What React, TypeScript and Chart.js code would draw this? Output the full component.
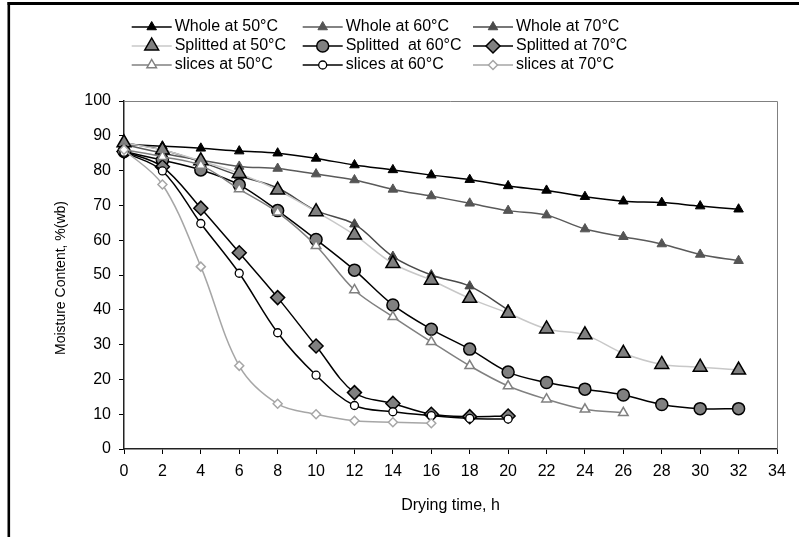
import React, { useEffect, useRef } from 'react';
import { Chart, registerables } from 'chart.js';

Chart.register(...registerables);

// ---- Data ----
const hours = [0, 2, 4, 6, 8, 10, 12, 14, 16, 18, 20, 22, 24, 26, 28, 30, 32];

const whole50 = [87.5, 87, 86.4, 85.6, 85, 83.5, 81.6, 80.2, 78.7, 77.4, 75.6, 74.3, 72.5, 71.2, 70.8, 69.8, 68.9];
const whole60 = [87.5, 85, 83, 81.2, 80.6, 79, 77.3, 74.6, 72.7, 70.6, 68.5, 67.2, 63.2, 61, 58.9, 55.9, 54.1];
const whole70 = [88, 86, 82.5, 78.5, 75, 68.5, 64.6, 55.3, 50, 46.8, 40];
const split50 = [88, 85.9, 82.8, 79.2, 74.4, 68.2, 61.5, 53.3, 48.5, 43.3, 39, 34.5, 32.8, 27.5, 24.3, 23.5, 22.7];
const split60 = [85.5, 83, 80.2, 75.9, 68.5, 60.2, 51.4, 41.4, 34.4, 28.7, 22.1, 19.1, 17.2, 15.5, 12.8, 11.6, 11.6];
const split70 = [85.5, 81.1, 69.2, 56.4, 43.5, 29.6, 16.2, 13.1, 10, 9.3, 9.5];
const slices50 = [86, 84, 81.5, 74.7, 68, 58.4, 45.7, 38, 30.8, 23.9, 18.1, 14.3, 11.4, 10.4];
const slices60 = [85.3, 79.9, 64.8, 50.5, 33.4, 21.2, 12.5, 10.7, 9.6, 8.8, 8.6];
const slices70 = [86, 76, 52.4, 23.9, 13, 10, 8.1, 7.7, 7.4];

const seriesLabels = [
  'Whole at 50°C', 'Whole at 60°C', 'Whole at 70°C',
  'Splitted at 50°C', 'Splitted  at 60°C', 'Splitted at 70°C',
  'slices at 50°C', 'slices at 60°C', 'slices at 70°C',
];
const seriesValues = [whole50, whole60, whole70, split50, split60, split70, slices50, slices60, slices70];

const yTitle = 'Moisture Content, %(wb)';
const xTitle = 'Drying time, h';

// ---- Styles ----
type Sty = { line: string; shape: string; r: number; fill: string; stroke: string; bw: number };
const styles: Sty[] = [
  { line: '#000000', shape: 'triangle', r: 5.5, fill: '#000000', stroke: '#000000', bw: 1 },
  { line: '#5a5a5a', shape: 'triangle', r: 5.5, fill: '#555555', stroke: '#555555', bw: 1 },
  { line: '#4a4a4a', shape: 'triangle', r: 5.5, fill: '#4a4a4a', stroke: '#4a4a4a', bw: 1 },
  { line: '#c8c8c8', shape: 'triangle', r: 8, fill: '#808080', stroke: '#000000', bw: 1.5 },
  { line: '#000000', shape: 'circle', r: 6, fill: '#808080', stroke: '#000000', bw: 1.5 },
  { line: '#000000', shape: 'rectRot', r: 7, fill: '#808080', stroke: '#000000', bw: 1.5 },
  { line: '#808080', shape: 'triangle', r: 5.5, fill: '#ffffff', stroke: '#808080', bw: 1.5 },
  { line: '#000000', shape: 'circle', r: 4, fill: '#ffffff', stroke: '#000000', bw: 1.3 },
  { line: '#a6a6a6', shape: 'rectRot', r: 4.5, fill: '#ffffff', stroke: '#a6a6a6', bw: 1.5 },
];

const FONT = "'Liberation Sans', Arial, sans-serif";

function drawMarker(ctx: CanvasRenderingContext2D, s: Sty, x: number, y: number) {
  const r = s.r;
  ctx.beginPath();
  if (s.shape === 'circle') {
    ctx.arc(x, y, r, 0, Math.PI * 2);
  } else if (s.shape === 'triangle') {
    ctx.moveTo(x, y - r);
    ctx.lineTo(x + 0.866 * r, y + 0.5 * r);
    ctx.lineTo(x - 0.866 * r, y + 0.5 * r);
    ctx.closePath();
  } else {
    ctx.moveTo(x - r, y);
    ctx.lineTo(x, y - r);
    ctx.lineTo(x + r, y);
    ctx.lineTo(x, y + r);
    ctx.closePath();
  }
  ctx.fillStyle = s.fill;
  ctx.fill();
  if (s.bw) {
    ctx.lineWidth = s.bw;
    ctx.strokeStyle = s.stroke;
    ctx.stroke();
  }
}

const decorPlugin = {
  id: 'decor',
  beforeDraw(chart: any) {
    const ctx = chart.ctx as CanvasRenderingContext2D;
    ctx.save();
    ctx.fillStyle = '#ffffff';
    ctx.fillRect(0, 0, chart.width, chart.height);
    // outer frame (left & top)
    ctx.fillStyle = '#000000';
    ctx.fillRect(7.5, 2, 2.6, chart.height);
    ctx.fillRect(7.5, 2, chart.width, 3);
    ctx.restore();
  },
  beforeDatasetsDraw(chart: any) {
    const ctx = chart.ctx as CanvasRenderingContext2D;
    const a = chart.chartArea;
    ctx.save();
    ctx.strokeStyle = '#808080';
    ctx.lineWidth = 1;
    ctx.beginPath();
    ctx.moveTo(a.left, a.top + 0.5);
    ctx.lineTo(a.right + 0.5, a.top + 0.5);
    ctx.lineTo(a.right + 0.5, a.bottom);
    ctx.stroke();
    ctx.restore();
  },
  afterDraw(chart: any) {
    const ctx = chart.ctx as CanvasRenderingContext2D;
    const a = chart.chartArea;
    ctx.save();
    // y-axis title
    ctx.translate(61.5, (a.top + a.bottom) / 2 + 3);
    ctx.rotate(-Math.PI / 2);
    ctx.font = `14px ${FONT}`;
    ctx.fillStyle = '#000';
    ctx.textAlign = 'center';
    ctx.textBaseline = 'middle';
    ctx.fillText(yTitle, 0, 0);
    ctx.restore();

    // legend 3x3
    const colX = [131.7, 302.7, 473];
    const rowY = [27, 46, 65];
    ctx.save();
    ctx.font = `16px ${FONT}`;
    ctx.textBaseline = 'middle';
    ctx.textAlign = 'left';
    seriesLabels.forEach((lab, i) => {
      const s = styles[i];
      const x0 = colX[i % 3];
      const y0 = rowY[Math.floor(i / 3)];
      ctx.strokeStyle = s.line;
      ctx.lineWidth = 1.5;
      ctx.beginPath();
      ctx.moveTo(x0, y0);
      ctx.lineTo(x0 + 40, y0);
      ctx.stroke();
      drawMarker(ctx, s, x0 + 20, y0);
      ctx.fillStyle = '#000';
      ctx.fillText(lab, x0 + 43, y0);
    });
    ctx.restore();
  },
};

export default function App() {
  const ref = useRef<HTMLCanvasElement | null>(null);

  useEffect(() => {
    if (!ref.current) return;
    Chart.defaults.font.family = FONT;
    const datasets = seriesValues.map((vals, i) => {
      const s = styles[i];
      return {
        label: seriesLabels[i],
        data: vals.map((v, k) => ({ x: hours[k], y: v })),
        borderColor: s.line,
        borderWidth: 1.5,
        backgroundColor: s.fill,
        pointStyle: s.shape,
        pointRadius: s.r,
        pointBackgroundColor: s.fill,
        pointBorderColor: s.stroke,
        pointBorderWidth: s.bw,
        tension: 0.35,
        fill: false,
        clip: false,
        order: -i,
      };
    });
    const chart = new Chart(ref.current, {
      type: 'line',
      data: { datasets } as any,
      plugins: [decorPlugin],
      options: {
        responsive: false,
        animation: false,
        events: [],
        layout: { padding: { left: 0, right: 22, top: 101, bottom: 20 } },
        plugins: { legend: { display: false }, tooltip: { enabled: false } },
        scales: {
          x: {
            type: 'linear',
            min: 0,
            max: 34,
            afterFit: (sc: any) => { sc.height = 68; },
            ticks: { stepSize: 2, color: '#000', font: { size: 16 }, padding: 8, maxRotation: 0 },
            grid: { drawOnChartArea: false, drawTicks: true, tickLength: 5, color: '#000' },
            border: { display: true, color: '#222', width: 1.5 },
            title: { display: true, text: xTitle, color: '#000', font: { size: 16 }, padding: { top: 0, bottom: 2 } },
          },
          y: {
            type: 'linear',
            min: 0,
            max: 100,
            afterFit: (sc: any) => { sc.width = 124; },
            ticks: { stepSize: 10, color: '#000', font: { size: 16 }, padding: 8 },
            grid: { drawOnChartArea: false, drawTicks: true, tickLength: 5, color: '#000' },
            border: { display: true, color: '#222', width: 1.5 },
          },
        },
      } as any,
    });
    return () => chart.destroy();
  }, []);

  return (
    <div style={{ position: 'fixed', left: 0, top: 0, width: 799, height: 537, overflow: 'hidden', background: '#fff' }}>
      <canvas ref={ref} width={799} height={537} style={{ display: 'block', width: 799, height: 537 }} />
    </div>
  );
}
